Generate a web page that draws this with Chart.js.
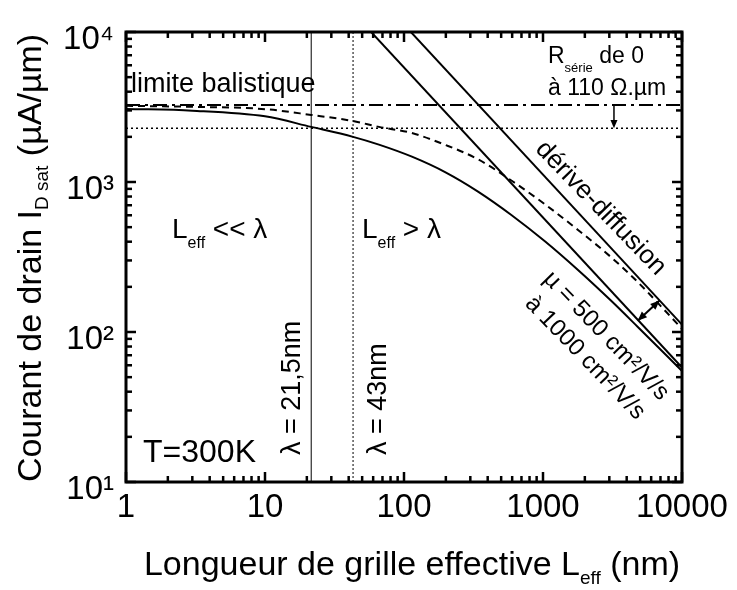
<!DOCTYPE html>
<html>
<head>
<meta charset="utf-8">
<script src="https://cdn.jsdelivr.net/npm/chart.js@4.4.1/dist/chart.umd.min.js"></script>
<style>
  html, body { margin: 0; padding: 0; background: #fff; }
  #cadre { width: 737px; height: 590px; }
</style>
</head>
<body>
<div id="cadre"><canvas id="graficoCourant"></canvas></div>
<script>
// Données (échelles log-log)
const decadesX = [1, 10, 100, 1000, 10000];
const decadesY = [10, 100, 1000, 10000];
const etiquettesY = ['10¹', '10²', '10³', '10⁴'];

// longueurs de grille (nm) des courbes quasi-balistiques
const longueurs = [1, 3, 10, 21.5, 43, 66, 114, 199, 343, 592, 1037, 1786, 3080, 4810, 10000];
const courantMu500 = [3070, 2990, 2740, 2330, 2000, 1775, 1475, 1160, 860, 603, 401, 259, 162, 108, 55];
const courantMu1000 = [3220, 3170, 3060, 2800, 2550, 2330, 2120, 1765, 1413, 1023, 708, 479, 316, 215, 105];

// dérive-diffusion (droites en 1/L)
const longueursDD500 = [50, 10000];
const courantDD500 = [11600, 58];
const longueursDD1000 = [100, 10000];
const courantDD1000 = [11200, 112];

// limites horizontales et verticales
const limiteBalistique = 3260;
const limiteRserie = 2280;
const lambdas = [21.5, 43];

const POLICE = "'Liberation Sans', Arial, sans-serif";

function points(xs, ys) {
  return xs.map((x, i) => ({ x: x, y: ys[i] }));
}

function graduationsLog(min, max) {
  const t = [];
  for (let d = min; d < max; d *= 10) {
    for (let k = 1; k < 10; k++) t.push(d * k);
  }
  t.push(max);
  return t;
}

function trait(ctx, x0, y0, x1, y1) {
  ctx.beginPath();
  ctx.moveTo(x0, y0);
  ctx.lineTo(x1, y1);
  ctx.stroke();
}

function pointeFleche(ctx, x0, y0, x1, y1, taille) {
  const ang = Math.atan2(y1 - y0, x1 - x0);
  ctx.beginPath();
  ctx.moveTo(x1, y1);
  ctx.lineTo(x1 - taille * Math.cos(ang - 0.4), y1 - taille * Math.sin(ang - 0.4));
  ctx.lineTo(x1 - taille * Math.cos(ang + 0.4), y1 - taille * Math.sin(ang + 0.4));
  ctx.closePath();
  ctx.fill();
}

// texte avec indices : parts = [{t, s, dy}]
function texteRiche(ctx, parts, x, y, align, angle) {
  ctx.save();
  ctx.translate(x, y);
  ctx.rotate(angle || 0);
  ctx.textAlign = 'left';
  ctx.textBaseline = 'alphabetic';
  let w = 0;
  parts.forEach(p => {
    ctx.font = p.s + 'px ' + POLICE;
    p.w = ctx.measureText(p.t).width;
    w += p.w;
  });
  let cx = align === 'center' ? -w / 2 : 0;
  parts.forEach(p => {
    ctx.font = p.s + 'px ' + POLICE;
    ctx.fillText(p.t, cx, p.dy || 0);
    cx += p.w;
  });
  ctx.restore();
}

const decor = {
  id: 'decor',
  afterDatasetsDraw(chart) {
    const { ctx, chartArea: a, scales: { x, y } } = chart;
    ctx.save();
    ctx.strokeStyle = '#000';
    ctx.fillStyle = '#000';

    // flèche R série
    ctx.lineWidth = 1.5;
    const xr = x.getPixelForValue(3240);
    const yr0 = y.getPixelForValue(limiteBalistique);
    const yr1 = y.getPixelForValue(limiteRserie);
    trait(ctx, xr, yr0, xr, yr1 - 6);
    pointeFleche(ctx, xr, yr0, xr, yr1, 9);

    // double flèche mobilité
    ctx.lineWidth = 2;
    const xa = x.getPixelForValue(4800), ya = y.getPixelForValue(119);
    const xb = x.getPixelForValue(6900), yb = y.getPixelForValue(162);
    trait(ctx, xa, ya, xb, yb);
    pointeFleche(ctx, xb, yb, xa, ya, 10);
    pointeFleche(ctx, xa, ya, xb, yb, 10);

    // graduations vers l'intérieur sur les 4 côtés
    ctx.lineWidth = 2.5;
    x.ticks.forEach(t => {
      const px = x.getPixelForValue(t.value);
      const l = decadesX.includes(t.value) ? 10 : 6;
      trait(ctx, px, a.bottom, px, a.bottom - l);
      trait(ctx, px, a.top, px, a.top + l);
    });
    y.ticks.forEach(t => {
      const py = y.getPixelForValue(t.value);
      const l = decadesY.includes(t.value) ? 10 : 6;
      trait(ctx, a.left, py, a.left + l, py);
      trait(ctx, a.right, py, a.right - l, py);
    });
    ctx.lineWidth = 3;
    ctx.strokeRect(a.left, a.top, a.right - a.left, a.bottom - a.top);

    // annotations
    texteRiche(ctx, [{ t: 'limite balistique', s: 27 }], 131, 92);
    texteRiche(ctx, [{ t: 'R', s: 23 }, { t: 'série', s: 13, dy: 9 }, { t: ' de 0', s: 23 }], 548, 63);
    texteRiche(ctx, [{ t: 'à 110 Ω.µm', s: 23 }], 548, 95);
    texteRiche(ctx, [{ t: 'L', s: 28 }, { t: 'eff', s: 16, dy: 10 }, { t: ' << λ', s: 28 }], 172, 238);
    texteRiche(ctx, [{ t: 'L', s: 28 }, { t: 'eff', s: 16, dy: 10 }, { t: ' > λ', s: 28 }], 362, 238);
    texteRiche(ctx, [{ t: 'T=300K', s: 32 }], 143, 462);
    texteRiche(ctx, [{ t: 'λ = 21,5nm', s: 27 }], 300, 455, 'left', -Math.PI / 2);
    texteRiche(ctx, [{ t: 'λ = 43nm', s: 27 }], 386, 455, 'left', -Math.PI / 2);
    const angle = 46 * Math.PI / 180;
    const sn = Math.sin(angle), cs = Math.cos(angle);
    texteRiche(ctx, [{ t: 'dérive-diffusion', s: 26 }], 602 - 9 * sn, 207 + 9 * cs, 'center', angle);
    texteRiche(ctx, [{ t: 'µ = 500 cm²/V/s', s: 24 }], 607 - 8 * sn, 335 + 8 * cs, 'center', angle);
    texteRiche(ctx, [{ t: 'à 1000 cm²/V/s', s: 24 }], 586 - 8 * sn, 357 + 8 * cs, 'center', angle);

    // titres des axes
    texteRiche(ctx, [{ t: 'Courant de drain I', s: 34 }, { t: 'D sat', s: 19, dy: 7 }, { t: ' (µA/µm)', s: 34 }],
      41, 258, 'center', -Math.PI / 2);
    texteRiche(ctx, [{ t: 'Longueur de grille effective L', s: 34 }, { t: 'eff', s: 19, dy: 9 }, { t: ' (nm)', s: 34 }],
      412, 575, 'center');
    ctx.restore();
  }
};

const ctxCourant = document.getElementById('graficoCourant').getContext('2d');
new Chart(ctxCourant, {
  type: 'line',
  data: {
    datasets: [
      { data: points([1, 10000], [limiteBalistique, limiteBalistique]), borderColor: '#000', borderWidth: 2, borderDash: [14, 5, 3, 5] },
      { data: points([1, 10000], [limiteRserie, limiteRserie]), borderColor: '#000', borderWidth: 1.5, borderDash: [2, 3] },
      { data: points([lambdas[0], lambdas[0]], [10, 10000]), borderColor: '#000', borderWidth: 1 },
      { data: points([lambdas[1], lambdas[1]], [10, 10000]), borderColor: '#000', borderWidth: 1, borderDash: [2, 2] },
      { data: points(longueursDD500, courantDD500), borderColor: '#000', borderWidth: 2 },
      { data: points(longueursDD1000, courantDD1000), borderColor: '#000', borderWidth: 2 },
      { data: points(longueurs, courantMu500), borderColor: '#000', borderWidth: 2, cubicInterpolationMode: 'monotone' },
      { data: points(longueurs, courantMu1000), borderColor: '#000', borderWidth: 2, borderDash: [7, 5], cubicInterpolationMode: 'monotone' }
    ]
  },
  options: {
    responsive: true,
    maintainAspectRatio: false,
    animation: false,
    devicePixelRatio: 1,
    elements: { point: { radius: 0 } },
    layout: { padding: { left: 0, top: 32, right: 55, bottom: 0 } },
    plugins: { legend: { display: false }, tooltip: { enabled: false } },
    scales: {
      x: {
        type: 'logarithmic',
        min: 1,
        max: 10000,
        grid: { display: false, drawTicks: false },
        border: { display: false },
        afterBuildTicks: s => { s.ticks = graduationsLog(1, 10000).map(v => ({ value: v })); },
        afterFit: s => { s.height = 108; },
        ticks: {
          autoSkip: false,
          maxRotation: 0,
          padding: 6,
          color: '#000',
          font: { family: POLICE, size: 33 },
          callback: v => decadesX.includes(v) ? String(v) : ''
        }
      },
      y: {
        type: 'logarithmic',
        min: 10,
        max: 10000,
        grid: { display: false, drawTicks: false },
        border: { display: false },
        afterBuildTicks: s => { s.ticks = graduationsLog(10, 10000).map(v => ({ value: v })); },
        afterFit: s => { s.width = 126; },
        ticks: {
          autoSkip: false,
          padding: 12,
          labelOffset: 8,
          color: '#000',
          font: { family: POLICE, size: 33 },
          callback: v => decadesY.includes(v) ? etiquettesY[decadesY.indexOf(v)] : ''
        }
      }
    }
  },
  plugins: [decor]
});
</script>
</body>
</html>
